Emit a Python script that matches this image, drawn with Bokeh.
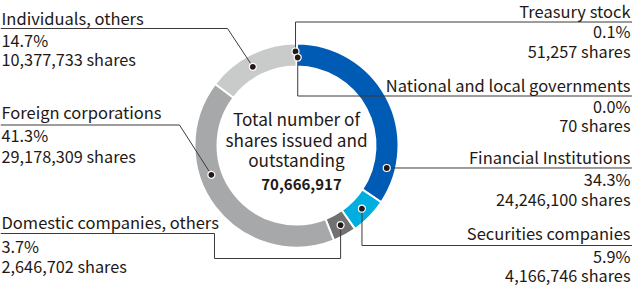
import math
from bokeh.plotting import figure
from bokeh.models import Range1d
from bokeh.core.properties import value
from bokeh.embed import file_html
from bokeh.resources import INLINE

# ---- data ----
categories = ["Treasury stock", "National and local governments", "Financial Institutions",
              "Securities companies", "Domestic companies, others", "Foreign corporations",
              "Individuals, others"]
shares = [51257, 70, 24246100, 4166746, 2646702, 29178309, 10377733]
percents = ["0.1%", "0.0%", "34.3%", "5.9%", "3.7%", "41.3%", "14.7%"]
total_label = "70,666,917"
center_lines = ["Total number of", "shares issued and", "outstanding"]

# ---- style / layout ----
colors = ["#4a4a4a", "#4a4a4a", "#005BB5", "#00AFDF", "#727171", "#A7A8A9", "#C9CACA"]
W, H = 632, 299
CX, CY = 296, 145          # pixel coords (y down)
R_OUT, R_IN = 102, 79
TXT = "#231815"
LINE = "#3e3a39"
FONT = value("Noto Sans CJK JP")
SHIFT = 7  # font baseline correction

def Y(y):
    return H - y

def TY(b):
    return H - (b - SHIFT)

p = figure(width=W, height=H, output_backend="svg", toolbar_location=None,
           x_range=Range1d(0, W), y_range=Range1d(0, H),
           x_axis_type=None, y_axis_type=None, min_border=0)
p.grid.visible = False
p.outline_line_color = None
p.background_fill_color = "white"
p.border_fill_color = "white"

total = sum(shares)
starts, ends = [], []
cum = 0
for s in shares:
    starts.append(math.pi / 2 - 2 * math.pi * cum / total)
    cum += s
    ends.append(math.pi / 2 - 2 * math.pi * cum / total)

p.annular_wedge(x=CX, y=Y(CY), inner_radius=R_IN, outer_radius=R_OUT,
                start_angle=starts, end_angle=ends, direction="clock",
                fill_color=colors, line_color="white", line_width=2)

# dot placement (angle clockwise from top in degrees, radius) -- layout
dot_ang = [359.4, 0.8, 104, 134, 151, 251, 331]
dot_rad = [94, 88, 93, 91, 91, 90, 90]
dx, dy = [], []
for a, r in zip(dot_ang, dot_rad):
    t = math.radians(a)
    dx.append(CX + r * math.sin(t))
    dy.append(CY - r * math.cos(t))

# leader lines: (label anchor paths) in pixel coords
paths = [
    [(dx[0], 21.5), (W, 21.5)],
    [(dx[1], 95.5), (W, 95.5)],
    [(W, dy[2])],
    [(dx[3], 245), (W, 245)],
    [(dx[4], 258), (214, 258), (214, 233), (0, 233)],
    [(179, 124.5), (0, 124.5)],
    [(227, 28), (0, 28)],
]
xs, ys = [], []
for i, path in enumerate(paths):
    pts = [(dx[i], dy[i])] + path
    xs.append([pt[0] for pt in pts])
    ys.append([Y(pt[1]) for pt in pts])
p.multi_line(xs=xs, ys=ys, line_color=LINE, line_width=1)

p.scatter(x=dx, y=[Y(v) for v in dy], size=7, fill_color="#231815",
          line_color="white", line_width=1.2)

# labels: baselines (title, percent, shares) in pixels from top
right_side = [0, 1, 2, 3]
baselines = [(17, 37.5, 57), (91, 112, 131.5), (163, 185, 205), (239, 262, 281),
             (228, 252.5, 272), (118, 141.5, 162), (24, 46, 65.5)]
for i, cat in enumerate(categories):
    right = i in right_side
    x = 630 if right else 1
    align = "right" if right else "left"
    b0, b1, b2 = baselines[i]
    p.text(x=[x], y=[TY(b0)], text=[cat], text_font=FONT, text_font_size="16.5px",
           text_color=TXT, text_align=align, text_baseline="alphabetic")
    p.text(x=[x], y=[TY(b1)], text=[percents[i]], text_font=FONT, text_font_size="16.3px",
           text_color=TXT, text_align=align, text_baseline="alphabetic")
    p.text(x=[x], y=[TY(b2)], text=[f"{shares[i]:,} shares"], text_font=FONT,
           text_font_size="16.3px", text_color=TXT, text_align=align, text_baseline="alphabetic")

center_base = [125, 146, 166]
for t, b in zip(center_lines, center_base):
    p.text(x=[CX], y=[TY(b)], text=[t], text_font=FONT, text_font_size="17.2px",
           text_color=TXT, text_align="center", text_baseline="alphabetic")
p.text(x=[301], y=[TY(191)], text=[total_label], text_font=FONT, text_font_size="15px",
       text_font_style="bold", text_color=TXT, text_align="center", text_baseline="alphabetic")

open("out.html", "w").write(file_html(p, INLINE))
